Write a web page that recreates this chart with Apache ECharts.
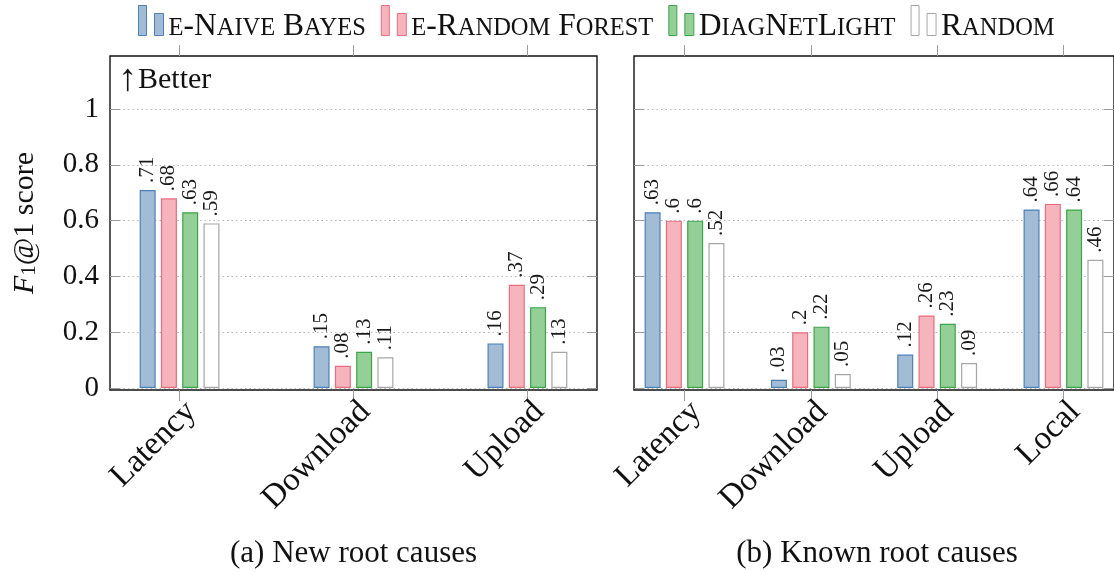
<!DOCTYPE html>
<html>
<head>
<meta charset="utf-8">
<script src="https://cdn.jsdelivr.net/npm/echarts@6/dist/echarts.min.js"></script>
<style>
  html, body { margin: 0; padding: 0; background: #ffffff; }
  #chart { width: 1114px; height: 572px; }
</style>
</head>
<body>
<div id="chart"></div>
<script>
// ---- data ----
const seriesNames = ['e-Naive Bayes', 'e-Random Forest', 'DiagNetLight', 'Random'];

const newCauseCategories = ['Latency', 'Download', 'Upload'];
const newNaiveBayes     = [0.71, 0.15, 0.16];
const newRandomForest   = [0.68, 0.08, 0.37];
const newDiagNetLight   = [0.63, 0.13, 0.29];
const newRandom         = [0.59, 0.11, 0.13];

const knownCauseCategories = ['Latency', 'Download', 'Upload', 'Local'];
const knownNaiveBayes     = [0.63, 0.03, 0.12, 0.64];
const knownRandomForest   = [0.6, 0.2, 0.26, 0.66];
const knownDiagNetLight   = [0.6, 0.22, 0.23, 0.64];
const knownRandom         = [0.52, 0.05, 0.09, 0.46];

const yTicks = [0, 0.2, 0.4, 0.6, 0.8, 1];

const panelCaptions = ['(a) New root causes', '(b) Known root causes'];
const yAxisTitle = '{it|F}{sub|1}{n|@1 score}';
const cornerNote = '{a|↑}{b|Better}';

// ---- styling ----
const FONT = '"Liberation Serif", "DejaVu Serif", serif';
const fills   = ['#a3bcd6', '#f6b4bd', '#93cf97', '#ffffff'];
const strokes = ['#4c80ba', '#ea6d7f', '#3ba549', '#a6a6a6'];
const TICK_COLOR = '#9c9c9c';
const FRAME_COLOR = '#111111';

const PLOT_TOP = 56;
const PLOT_HEIGHT = 334;
const panels = [
  { left: 110, width: 487, categories: newCauseCategories,
    values: [newNaiveBayes, newRandomForest, newDiagNetLight, newRandom] },
  { left: 634, width: 489, categories: knownCauseCategories,
    values: [knownNaiveBayes, knownRandomForest, knownDiagNetLight, knownRandom] }
];

// fake small caps: lowercase runs become smaller capitals
function smallCaps(s) {
  return s.replace(/([a-z]+)|([^a-z]+)/g, (m, lower, other) =>
    lower ? '{sc|' + lower.toUpperCase() + '}' : '{cap|' + other + '}');
}

function shortValue(v) {
  return String(v).replace(/^0\./, '.');
}

const grids = [];
const xAxes = [];
const yAxes = [];
const series = [];

panels.forEach((p, pi) => {
  grids.push({
    left: p.left, top: PLOT_TOP, width: p.width, height: PLOT_HEIGHT,
    show: true, borderColor: FRAME_COLOR, borderWidth: 1.4, backgroundColor: 'transparent'
  });
  const catPositions = p.categories.map((c, i) => i);
  const xMin = -0.4, xMax = p.categories.length - 0.6;
  // bottom axis: category names + outward ticks
  xAxes.push({
    type: 'value', gridIndex: pi, position: 'bottom', min: xMin, max: xMax,
    axisLine: { show: false, onZero: false }, splitLine: { show: false },
    axisTick: { show: true, inside: false, length: 11, customValues: catPositions,
      lineStyle: { color: TICK_COLOR, width: 1 } },
    axisLabel: { show: true, customValues: catPositions, rotate: 45, margin: 5,
      verticalAlign: 'top',
      fontSize: 33, fontFamily: FONT, color: '#111',
      formatter: v => p.categories[Math.round(v)] || '' }
  });
  // top axis: outward ticks only
  xAxes.push({
    type: 'value', gridIndex: pi, position: 'top', min: xMin, max: xMax,
    axisLine: { show: false, onZero: false }, splitLine: { show: false },
    axisTick: { show: true, inside: false, length: 11, customValues: catPositions,
      lineStyle: { color: TICK_COLOR, width: 1 } },
    axisLabel: { show: false }
  });
  // left axis: labels (first panel only), inward ticks, dotted grid lines
  yAxes.push({
    type: 'value', gridIndex: pi, position: 'left', min: -0.007, max: 1.19,
    axisLine: { show: false, onZero: false },
    axisTick: { show: true, inside: true, length: 10, customValues: yTicks,
      lineStyle: { color: TICK_COLOR, width: 1 } },
    axisLabel: { show: pi === 0, customValues: yTicks, margin: 11,
      fontSize: 29, fontFamily: FONT, color: '#111' },
    splitLine: { show: true, lineStyle: { color: '#b8b8b8', width: 1, type: [1.5, 3] } },
    name: pi === 0 ? yAxisTitle : '',
    nameLocation: 'middle', nameRotate: 90, nameGap: 70,
    nameTextStyle: {
      color: '#111', fontFamily: FONT,
      rich: {
        it: { fontSize: 30, lineHeight: 30, fontStyle: 'italic', fontFamily: FONT, color: '#111' },
        sub: { fontSize: 21, lineHeight: 14, verticalAlign: 'bottom', fontFamily: FONT, color: '#111' },
        n: { fontSize: 30, lineHeight: 30, fontFamily: FONT, color: '#111' }
      }
    }
  });
  // right axis: inward ticks only
  yAxes.push({
    type: 'value', gridIndex: pi, position: 'right', min: -0.007, max: 1.19,
    axisLine: { show: false, onZero: false }, splitLine: { show: false },
    axisTick: { show: true, inside: true, length: 10, customValues: yTicks,
      lineStyle: { color: TICK_COLOR, width: 1 } },
    axisLabel: { show: false }
  });

  seriesNames.forEach((name, si) => {
    series.push({
      type: 'bar', name: name,
      xAxisIndex: pi * 2, yAxisIndex: pi * 2,
      data: p.values[si].map((v, i) => [i, v]),
      barWidth: 16, barGap: '33%',
      itemStyle: { color: fills[si], borderColor: strokes[si], borderWidth: 1.2 },
      label: {
        show: true, position: 'top', distance: 7, rotate: 90,
        align: 'left', verticalAlign: 'middle',
        fontSize: 21, fontFamily: FONT, color: '#1a1a1a',
        formatter: d => shortValue(d.value[1])
      },
      emphasis: { disabled: true },
      silent: true
    });
  });
});

const graphics = panels.map((p, pi) => ({
  type: 'text',
  x: p.left + p.width / 2 - (pi === 1 ? 1.5 : 0),
  y: 554,
  style: { text: panelCaptions[pi], fontSize: 31, fontFamily: FONT, fill: '#111',
    align: 'center', verticalAlign: 'middle' }
}));
graphics.push({
  type: 'text', x: panels[0].left + 8, y: 80,
  style: {
    text: cornerNote, fontFamily: FONT, fill: '#111', align: 'left', verticalAlign: 'middle',
    rich: {
      a: { fontSize: 38, lineHeight: 38, fontFamily: FONT, fill: '#111', padding: [0, 1, 0, 0] },
      b: { fontSize: 30, lineHeight: 38, fontFamily: FONT, fill: '#111' }
    }
  }
});

const option = {
  animation: false,
  backgroundColor: '#ffffff',
  legend: {
    left: 138, top: 5, padding: 0, itemWidth: 25, itemHeight: 30, itemGap: 15,
    selectedMode: false,
    icon: 'path://M0,0H8V30H0ZM16,8H25V30H16Z',
    data: seriesNames.map((n, i) => ({
      name: n, itemStyle: { color: fills[i], borderColor: strokes[i], borderWidth: 1 }
    })),
    formatter: n => smallCaps(n),
    textStyle: {
      fontFamily: FONT, color: '#111', padding: [12, 0, 0, 0],
      rich: {
        cap: { fontSize: 31.5, lineHeight: 30, fontFamily: FONT, color: '#111' },
        sc: { fontSize: 24.5, lineHeight: 26, verticalAlign: 'bottom', fontFamily: FONT, color: '#111' }
      }
    }
  },
  grid: grids,
  xAxis: xAxes,
  yAxis: yAxes,
  series: series,
  graphic: graphics
};

const chart = echarts.init(document.getElementById('chart'), null, { renderer: 'canvas' });
chart.setOption(option);
</script>
</body>
</html>
